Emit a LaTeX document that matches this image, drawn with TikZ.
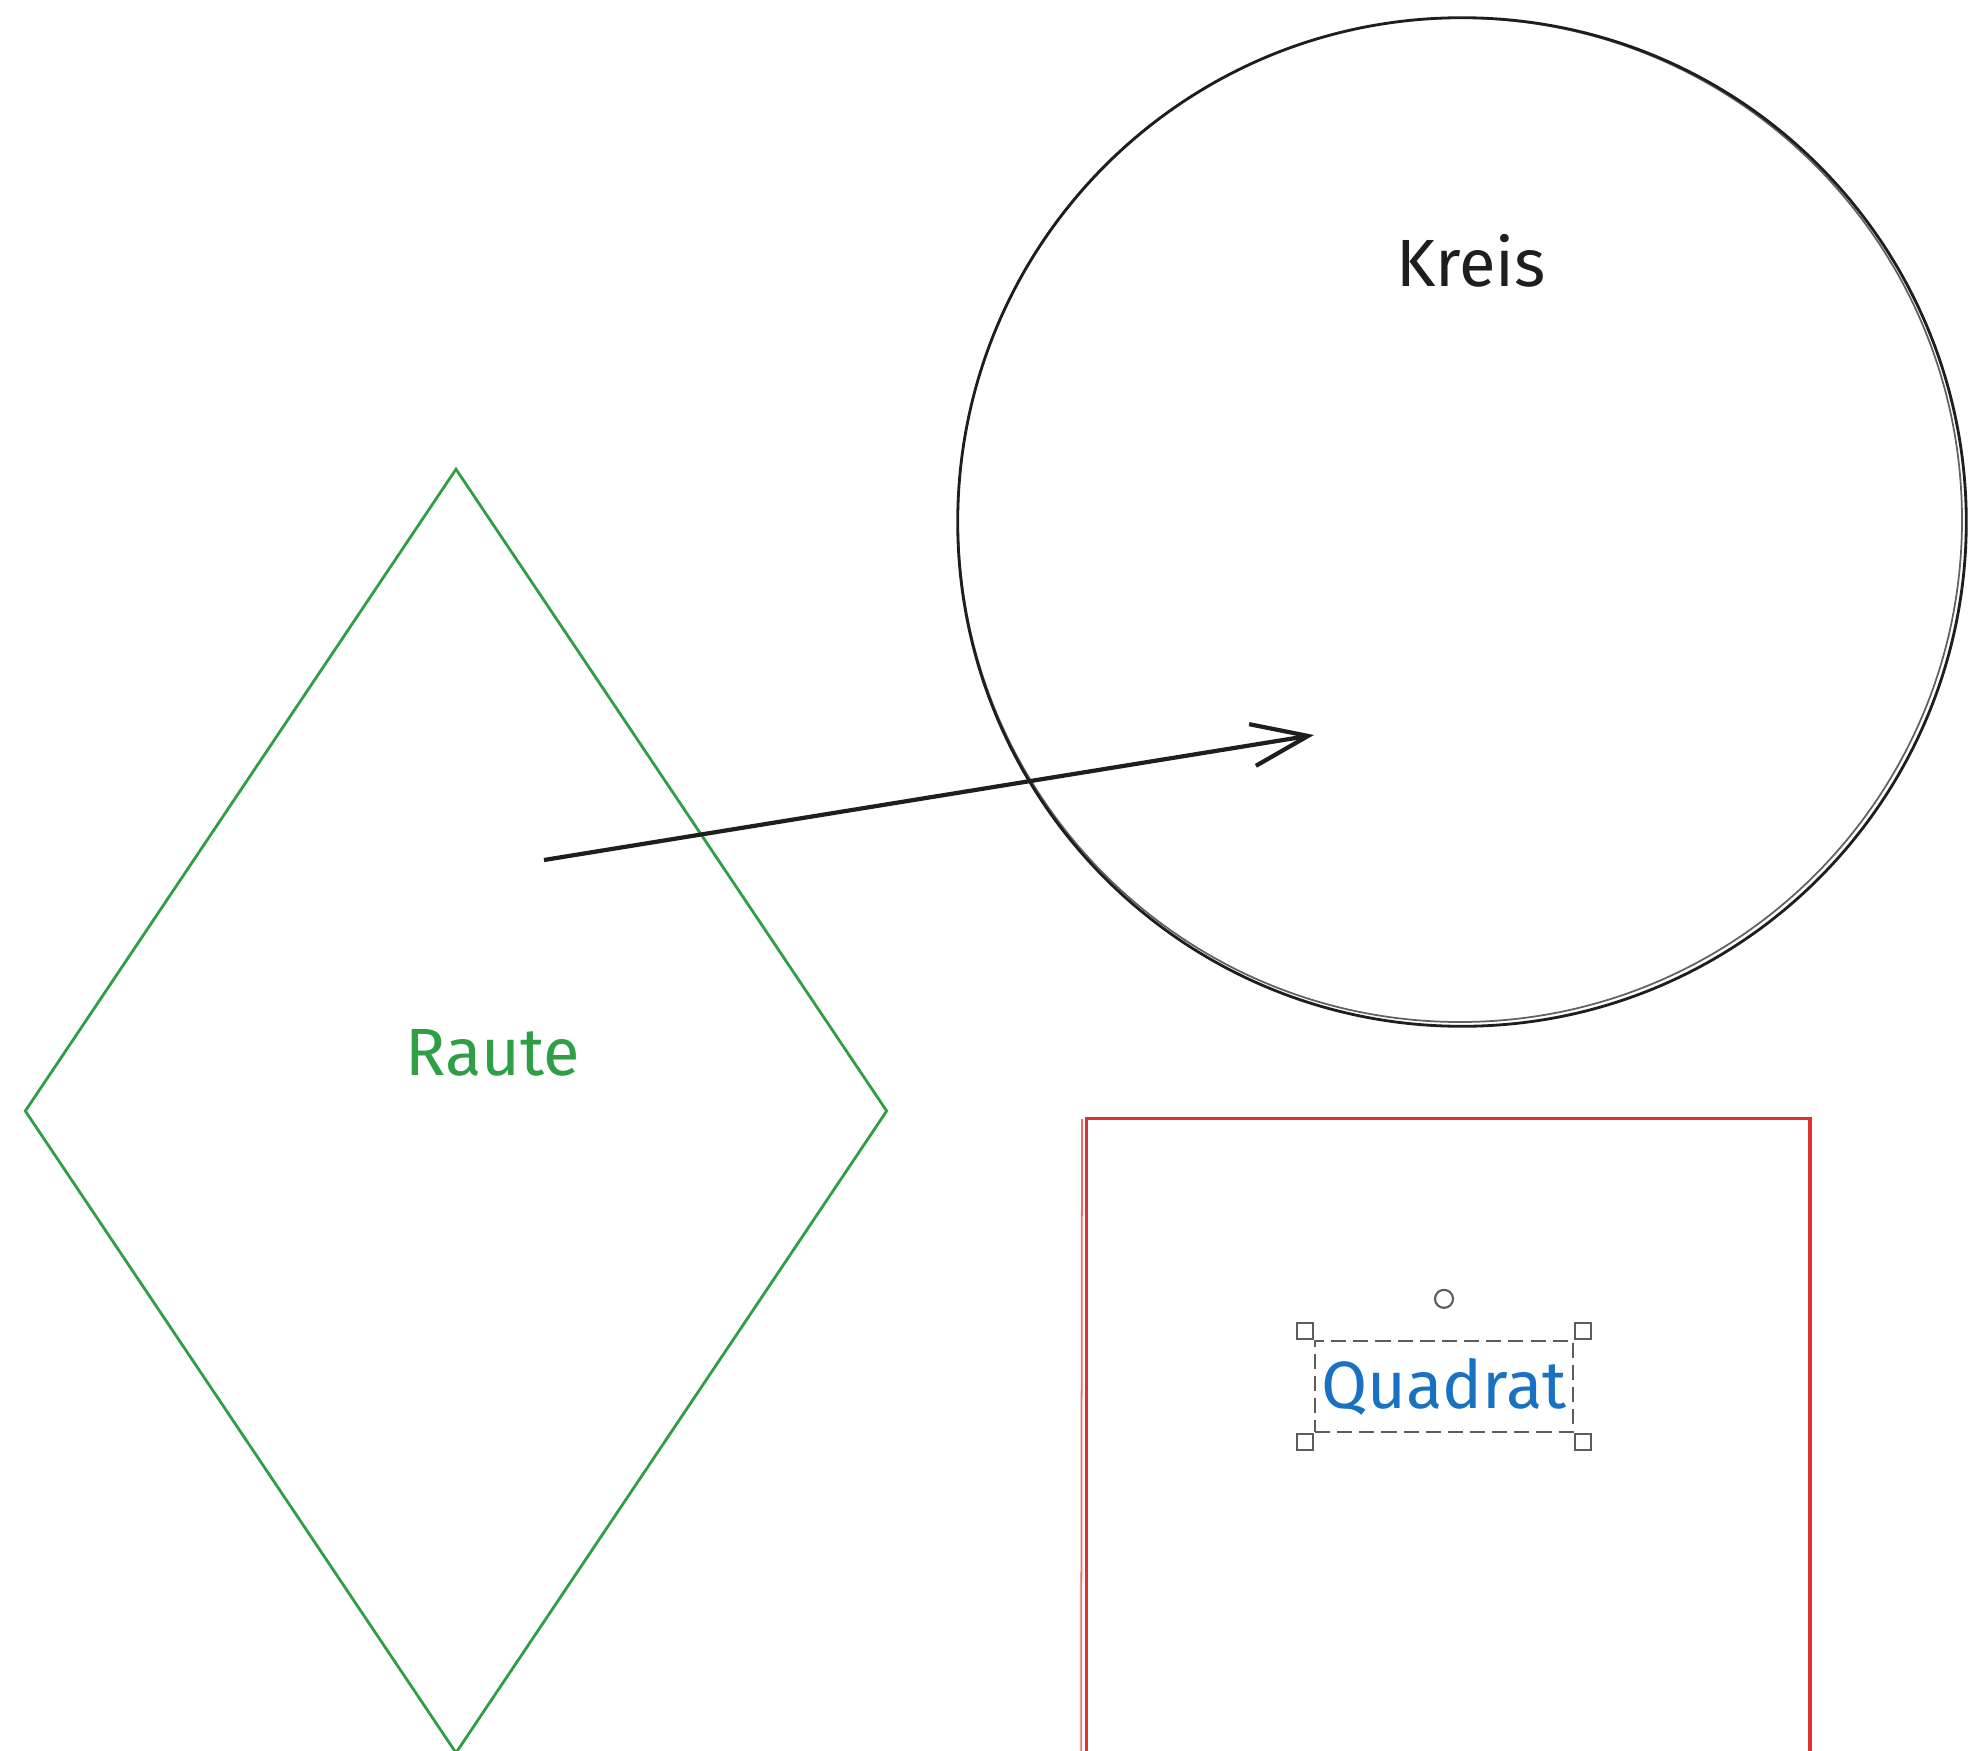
\documentclass[tikz,border=0pt]{standalone}
\usepackage{fontspec}
\setmainfont{Fira Sans}
\usepackage{xcolor}
\usepackage{tikz}
\usetikzlibrary{arrows.meta,positioning,calc,shapes.geometric}

\definecolor{strichgruen}{HTML}{2F9E44}
\definecolor{strichrot}{HTML}{E03131}
\definecolor{textblau}{HTML}{1971C2}
\definecolor{strichschwarz}{HTML}{1E1E1E}
\definecolor{griffgrau}{HTML}{5C5C5C}

\tikzset{
	beschriftung/.style={font=\fontsize{19}{23}\selectfont, inner sep=0pt},
	raute/.style={diamond, draw=strichgruen, line width=0.8pt, minimum width=8.62cm, minimum height=12.84cm, inner sep=0pt},
	kreis/.style={circle, draw=strichschwarz, line width=0.8pt, minimum size=10.08cm, inner sep=0pt},
	quadrat/.style={draw=strichrot, line width=0.9pt, minimum size=7.23cm, inner sep=0pt},
	pfeil/.style={draw=strichschwarz, line width=1.2pt, -{Straight Barb[length=16pt,width=12pt]}},
	auswahl/.style={draw=griffgrau, line width=0.6pt, dash pattern=on 4.3pt off 2pt, minimum width=2.58cm, minimum height=0.91cm, inner sep=0pt},
	griff/.style={draw=griffgrau, fill=white, line width=0.6pt, minimum size=0.16cm, inner sep=0pt},
	drehgriff/.style={circle, draw=griffgrau, fill=white, line width=0.6pt, minimum size=0.18cm, inner sep=0pt}
}

\begin{document}
\begin{tikzpicture}[x=0.01cm, y=-0.01cm]
		\useasboundingbox (0,0) rectangle (1971,1751);
		\clip (0,0) rectangle (1971,1751);
		\node[raute] (raute) at (456,1111) {};
		\node[beschriftung, text=strichgruen] (rautetext) at (493,1053) {Raute};
		\node[kreis] (kreis) at (1462,522) {};
		\draw[strichschwarz, line width=0.5pt, opacity=0.7] ($(kreis.center)+(-2,-2)$) circle [radius=502];
		\node[beschriftung, text=strichschwarz] (kreistext) at (1471,261) {Kreis};
		\node[quadrat, anchor=north west] (quadrat) at (1085,1117) {};
		\draw[strichrot, line width=0.5pt, opacity=0.7] ($(quadrat.north west)+(-3,2)$) -- ($(quadrat.south west)+(-4,0)$);
		\draw[strichrot, line width=0.5pt, opacity=0.7] ($(quadrat.north east)+(-2,3)$) -- ($(quadrat.south east)+(-2,0)$);
		\node[beschriftung, text=textblau] (quadrattext) at (1444,1387) {Quadrat};
		\node[auswahl] (auswahl) at (1444,1386.5) {};
		\foreach \ecke/\anker/\kurz in {north west/south east/nw, north east/south west/no, south west/north east/sw, south east/north west/so}
			\node[griff, anchor=\anker] (griff-\kurz) at (auswahl.\ecke) {};
		\node[drehgriff, above=0.31cm of auswahl.north] (drehgriff) {};
		\coordinate (pfeilstart) at (544,860);
		\coordinate (pfeilspitze) at (1314,735);
		\draw[pfeil] (pfeilstart) -- (pfeilspitze);
\end{tikzpicture}
\end{document}
